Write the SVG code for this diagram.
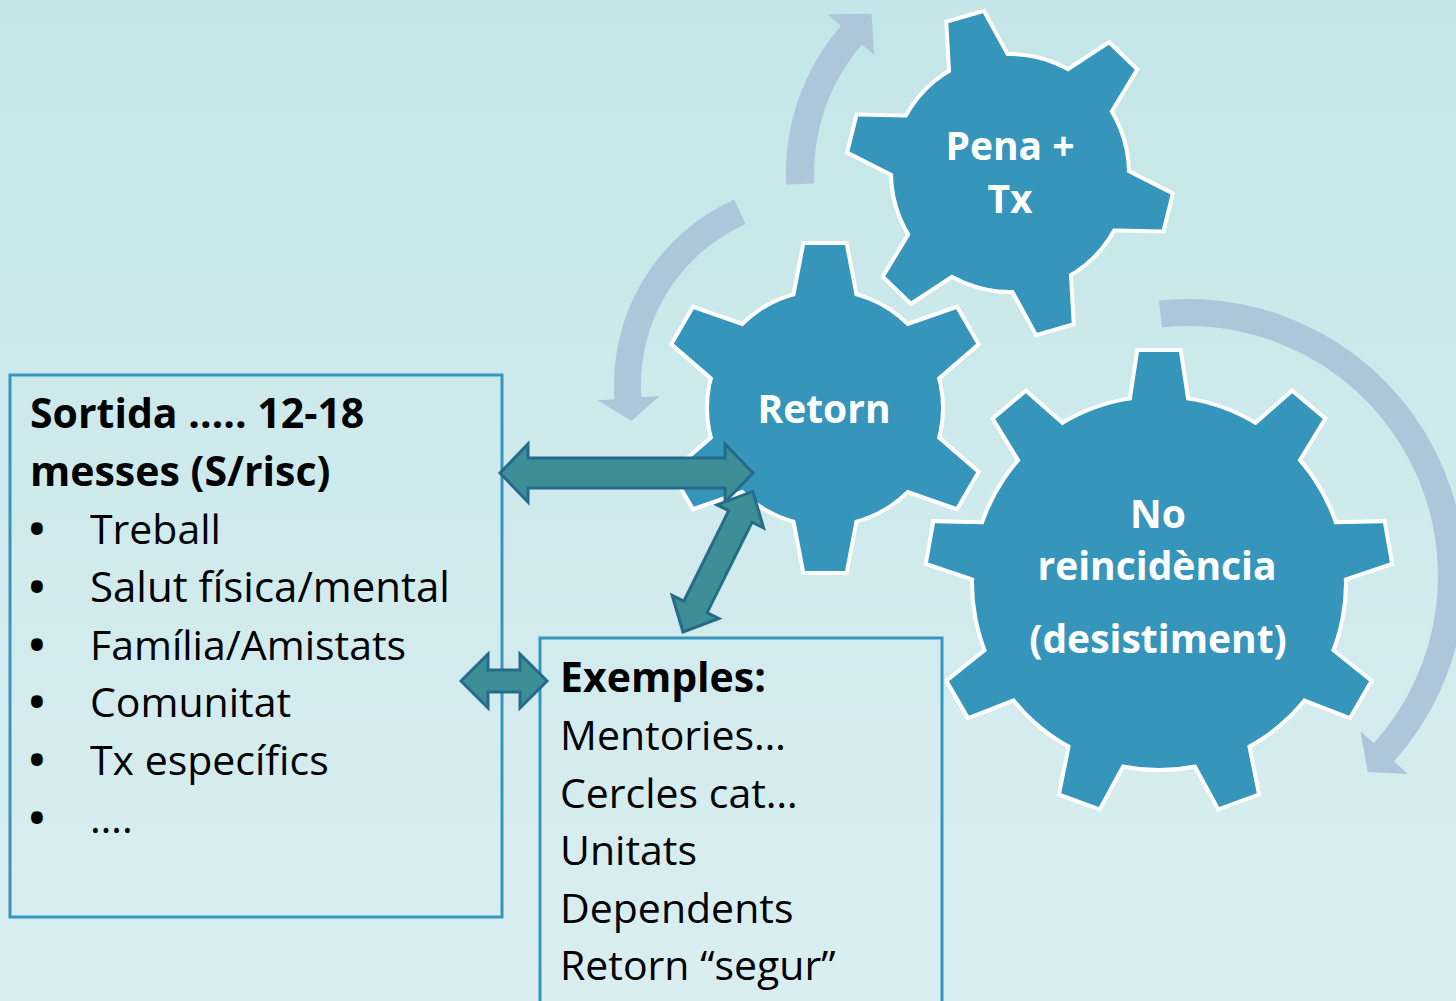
<svg xmlns="http://www.w3.org/2000/svg" xmlns:xlink="http://www.w3.org/1999/xlink" width="1456" height="1001" viewBox="0 0 1456 1001">
  <defs>
    <linearGradient id="bg" x1="0" y1="0" x2="0" y2="1">
      <stop offset="0" stop-color="#c4e6e8"/>
      <stop offset="1" stop-color="#daeef1"/>
    </linearGradient>
    <polygon id="tooth1" points="-30.7,-105 -18,-161 18,-161 30.7,-105"/>
    <polygon id="tooth2" points="-31.3,-104 -20,-163 20,-163 31.3,-104"/>
    <polygon id="tooth3" points="-28.8,-173 -20,-231 20,-231 28.8,-173"/>
    <style>
      .gear-outline { fill: #3695bb; stroke: #ffffff; stroke-width: 8; stroke-linejoin: miter; }
      .gear-fill { fill: #3695bb; stroke: none; }
      .gtext { font-family: "Open Sans", "Noto Sans", sans-serif; font-weight: bold; font-size: 39px; fill: #ffffff; text-anchor: middle; }
      .box { fill: none; stroke: #3796bf; stroke-width: 3; }
      .txt { font-family: "Open Sans", "Noto Sans", sans-serif; font-size: 41px; fill: #000000; }
      .wide { font-size: 42px; }
      .bul { font-weight: bold; font-size: 42px; }
      .b { font-weight: bold; }
      .cyc { fill: #aec6d9; stroke: none; }
      .dbl { fill: #3d8e96; stroke: #256b8a; stroke-width: 3; stroke-linejoin: miter; }
    </style>
  </defs>

  <rect x="0" y="0" width="1456" height="1001" fill="url(#bg)"/>

  <g id="cycle-arrows">
    <path class="cyc" d="M786.3,184.7 A224,224 0 0 1 840.9,26.0 L827.4,14.2 L871.6,13.8 L874.2,54.9 L862.1,44.4 A196,196 0 0 0 814.3,183.3 Z"/>
    <path class="cyc" d="M734.4,199.5 A203,203 0 0 0 614.5,399.2 L597.5,400.3 L631.5,421.1 L659.4,396.0 L641.4,397.3 A176,176 0 0 1 745.4,224.2 Z"/>
    <path class="cyc" d="M1159.0,300.5 A277,277 0 0 1 1393.9,761.4 L1408.0,774.1 L1367.7,772.1 L1360.4,731.2 L1373.8,743.3 A250,250 0 0 0 1161.9,327.4 Z"/>
  </g>

  <g id="gear-pena">
    <g transform="translate(1010,173)">
      <g class="gear-outline">
        <circle r="117"/>
        <use xlink:href="#tooth1" href="#tooth1" transform="rotate(104)"/>
        <use xlink:href="#tooth1" href="#tooth1" transform="rotate(164)"/>
        <use xlink:href="#tooth1" href="#tooth1" transform="rotate(224)"/>
        <use xlink:href="#tooth1" href="#tooth1" transform="rotate(284)"/>
        <use xlink:href="#tooth1" href="#tooth1" transform="rotate(344)"/>
        <use xlink:href="#tooth1" href="#tooth1" transform="rotate(44)"/>
      </g>
      <g class="gear-fill">
        <circle r="117"/>
        <use xlink:href="#tooth1" href="#tooth1" transform="rotate(104)"/>
        <use xlink:href="#tooth1" href="#tooth1" transform="rotate(164)"/>
        <use xlink:href="#tooth1" href="#tooth1" transform="rotate(224)"/>
        <use xlink:href="#tooth1" href="#tooth1" transform="rotate(284)"/>
        <use xlink:href="#tooth1" href="#tooth1" transform="rotate(344)"/>
        <use xlink:href="#tooth1" href="#tooth1" transform="rotate(44)"/>
      </g>
    </g>
    <text class="gtext" x="1010" y="160">Pena +</text>
    <text class="gtext" x="1010" y="213">Tx</text>
  </g>

  <g id="gear-retorn">
    <g transform="translate(825,408)">
      <g class="gear-outline">
        <circle r="116"/>
        <use xlink:href="#tooth2" href="#tooth2" transform="rotate(0)"/>
        <use xlink:href="#tooth2" href="#tooth2" transform="rotate(60)"/>
        <use xlink:href="#tooth2" href="#tooth2" transform="rotate(120)"/>
        <use xlink:href="#tooth2" href="#tooth2" transform="rotate(180)"/>
        <use xlink:href="#tooth2" href="#tooth2" transform="rotate(240)"/>
        <use xlink:href="#tooth2" href="#tooth2" transform="rotate(300)"/>
      </g>
      <g class="gear-fill">
        <circle r="116"/>
        <use xlink:href="#tooth2" href="#tooth2" transform="rotate(0)"/>
        <use xlink:href="#tooth2" href="#tooth2" transform="rotate(60)"/>
        <use xlink:href="#tooth2" href="#tooth2" transform="rotate(120)"/>
        <use xlink:href="#tooth2" href="#tooth2" transform="rotate(180)"/>
        <use xlink:href="#tooth2" href="#tooth2" transform="rotate(240)"/>
        <use xlink:href="#tooth2" href="#tooth2" transform="rotate(300)"/>
      </g>
    </g>
    <text class="gtext" x="824" y="423">Retorn</text>
  </g>

  <g id="gear-noreincidencia">
    <g transform="translate(1159,583)">
      <g class="gear-outline">
        <circle r="185"/>
        <use xlink:href="#tooth3" href="#tooth3" transform="rotate(0)"/>
        <use xlink:href="#tooth3" href="#tooth3" transform="rotate(40)"/>
        <use xlink:href="#tooth3" href="#tooth3" transform="rotate(80)"/>
        <use xlink:href="#tooth3" href="#tooth3" transform="rotate(120)"/>
        <use xlink:href="#tooth3" href="#tooth3" transform="rotate(160)"/>
        <use xlink:href="#tooth3" href="#tooth3" transform="rotate(200)"/>
        <use xlink:href="#tooth3" href="#tooth3" transform="rotate(240)"/>
        <use xlink:href="#tooth3" href="#tooth3" transform="rotate(280)"/>
        <use xlink:href="#tooth3" href="#tooth3" transform="rotate(320)"/>
      </g>
      <g class="gear-fill">
        <circle r="185"/>
        <use xlink:href="#tooth3" href="#tooth3" transform="rotate(0)"/>
        <use xlink:href="#tooth3" href="#tooth3" transform="rotate(40)"/>
        <use xlink:href="#tooth3" href="#tooth3" transform="rotate(80)"/>
        <use xlink:href="#tooth3" href="#tooth3" transform="rotate(120)"/>
        <use xlink:href="#tooth3" href="#tooth3" transform="rotate(160)"/>
        <use xlink:href="#tooth3" href="#tooth3" transform="rotate(200)"/>
        <use xlink:href="#tooth3" href="#tooth3" transform="rotate(240)"/>
        <use xlink:href="#tooth3" href="#tooth3" transform="rotate(280)"/>
        <use xlink:href="#tooth3" href="#tooth3" transform="rotate(320)"/>
      </g>
    </g>
    <text class="gtext" x="1158" y="528">No</text>
    <text class="gtext" x="1157" y="580">reincidència</text>
    <text class="gtext" x="1158" y="653">(desistiment)</text>
  </g>

  <g id="box-sortida">
    <rect class="box" x="10" y="375" width="492" height="542"/>
    <text class="txt b" x="30" y="428">Sortida ….. 12-18</text>
    <text class="txt b" x="30" y="486">messes (S/risc)</text>
    <text class="txt" y="544"><tspan class="bul" x="29">•</tspan><tspan x="90">Treball</tspan></text>
    <text class="txt" y="602"><tspan class="bul" x="29">•</tspan><tspan class="wide" x="90">Salut física/mental</tspan></text>
    <text class="txt" y="660"><tspan class="bul" x="29">•</tspan><tspan x="90">Família/Amistats</tspan></text>
    <text class="txt" y="717"><tspan class="bul" x="29">•</tspan><tspan x="90">Comunitat</tspan></text>
    <text class="txt" y="775"><tspan class="bul" x="29">•</tspan><tspan x="90">Tx específics</tspan></text>
    <text class="txt" y="833"><tspan class="bul" x="29">•</tspan><tspan x="90">….</tspan></text>
  </g>

  <g id="box-exemples">
    <rect class="box" x="540" y="638" width="402" height="420"/>
    <text class="txt b" x="560" y="692">Exemples:</text>
    <text class="txt" x="560" y="750">Mentories…</text>
    <text class="txt" x="560" y="808">Cercles cat…</text>
    <text class="txt" x="560" y="865">Unitats</text>
    <text class="txt" x="560" y="923">Dependents</text>
    <text class="txt" x="560" y="980">Retorn “segur”</text>
  </g>

  <g id="connectors">
    <polygon class="dbl" transform="translate(500,473)" points="0,0 28,-29 28,-15 225,-15 225,-29 253,0 225,29 225,15 28,15 28,29"/>
    <polygon class="dbl" transform="translate(683,632) rotate(-63.6)" points="0,0 28,-26 28,-13 129,-13 129,-26 157,0 129,26 129,13 28,13 28,26"/>
    <polygon class="dbl" transform="translate(461,681)" points="0,0 27,-27 27,-11 59,-11 59,-27 86,0 59,27 59,11 27,11 27,27"/>
  </g>
</svg>
